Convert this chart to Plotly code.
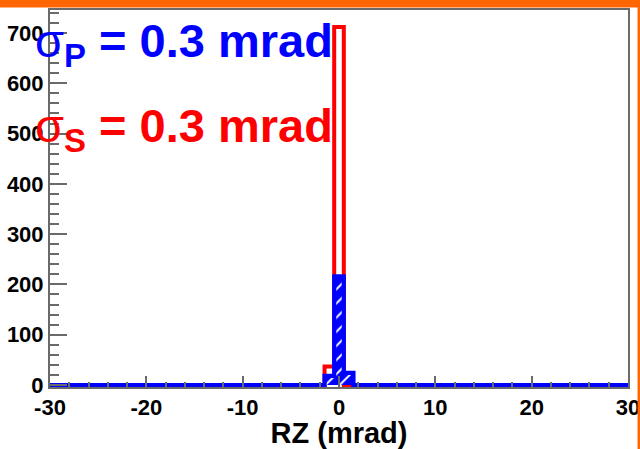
import plotly.graph_objects as go

# Histogram binning: 1 mrad bins centred on integer RZ values
bin_lo, bin_hi = -30, 30
bin_centers = list(range(bin_lo, bin_hi + 1))

# Non-empty bins of the two distributions (all other bins are zero)
peak_bins = [-1, 0, 1]
counts_sigma_s = [37, 712, 0]     # red, sigma_S = 0.3 mrad
counts_sigma_p = [18, 216, 24]    # blue, sigma_P = 0.3 mrad

x_ticks = [-30, -20, -10, 0, 10, 20, 30]
y_ticks = [0, 100, 200, 300, 400, 500, 600, 700]


def fill_bins(bins, counts):
    lookup = dict(zip(bins, counts))
    return [lookup.get(c, 0) for c in bin_centers]


red_y = fill_bins(peak_bins, counts_sigma_s)
blue_y = fill_bins(peak_bins, counts_sigma_p)

W, H = 640, 449
M_L, M_R, M_T, M_B = 50, 12, 10, 62
plot_h = H - M_T - M_B
plot_w = W - M_L - M_R


def py(pix):
    """pixel row -> paper y"""
    return (H - M_B - pix) / plot_h


def px(pix):
    """pixel column -> paper x"""
    return (pix - M_L) / plot_w


RED = "#ff0000"
BLUE = "#0000ff"
FRAME = "#6a6a6a"
FONT = "Liberation Sans"

fig = go.Figure()

# red histogram outline
fig.add_trace(go.Scatter(
    x=bin_centers, y=red_y, mode="lines",
    line=dict(color=RED, width=4, shape="hvh"),
    hoverinfo="skip", showlegend=False,
))

# blue histogram hatched fill (step-shaped area, drawn above the red outline)
fig.add_trace(go.Scatter(
    x=bin_centers, y=blue_y, mode="lines",
    line=dict(color=BLUE, width=0, shape="hvh"),
    fill="tozeroy", fillcolor=BLUE,
    fillpattern=dict(shape="/", bgcolor=BLUE, fgcolor="white",
                     size=10, solidity=0.2, fillmode="replace"),
    hoverinfo="skip", showlegend=False,
))

# blue histogram outline
fig.add_trace(go.Scatter(
    x=bin_centers, y=blue_y, mode="lines",
    line=dict(color=BLUE, width=4.2, shape="hvh"),
    hoverinfo="skip", showlegend=False,
))

tick_font = dict(family=FONT, size=22, color="black", weight="bold")

fig.update_xaxes(
    range=[bin_lo, bin_hi], automargin=False, ticklabeloverflow="allow",
    tickvals=x_ticks, ticktext=[str(v) for v in x_ticks],
    ticks="inside", ticklen=11, tickwidth=1.5, tickcolor=FRAME,
    minor=dict(dtick=2, ticks="inside", ticklen=5.5, tickwidth=1.5, tickcolor=FRAME),
    showline=True, linecolor=FRAME, linewidth=2, mirror=True,
    showgrid=False, zeroline=False,
    tickfont=tick_font,
    title=dict(text="RZ (mrad)", font=dict(family=FONT, size=29, color="black", weight="bold"),
               standoff=3),
)

fig.update_yaxes(
    range=[-4, 745.7], automargin=False, ticklabeloverflow="allow",
    tickvals=y_ticks, ticktext=[str(v) for v in y_ticks],
    ticks="inside", ticklen=17, tickwidth=1.5, tickcolor=FRAME,
    minor=dict(dtick=20, ticks="inside", ticklen=8.5, tickwidth=1.5, tickcolor=FRAME),
    showline=True, linecolor=FRAME, linewidth=2, mirror=True,
    showgrid=False, zeroline=False,
    tickfont=tick_font, ticklabelstandoff=0,
)

big = dict(family=FONT, size=47, weight="bold")
fig.add_annotation(
    text="<span style='font-weight:normal'>σ</span><sub>P</sub> = 0.3 mrad",
    xref="paper", yref="paper", x=px(33), y=py(12),
    xanchor="left", yanchor="top", showarrow=False,
    font=dict(color=BLUE, **big),
)
fig.add_annotation(
    text="<span style='font-weight:normal'>σ</span><sub>S</sub> = 0.3 mrad",
    xref="paper", yref="paper", x=px(33), y=py(97),
    xanchor="left", yanchor="top", showarrow=False,
    font=dict(color=RED, **big),
)

# orange slide border: band along the top and a thin rule on the right
ORANGE = "#ff6600"
fig.add_shape(type="rect", xref="paper", yref="paper",
              x0=px(-5), x1=px(W + 5), y0=py(7.5), y1=py(-5),
              fillcolor=ORANGE, line=dict(width=0), layer="above")
fig.add_shape(type="line", xref="paper", yref="paper",
              x0=px(638.8), x1=px(638.8), y0=py(0), y1=py(H + 5),
              line=dict(color=ORANGE, width=2.5), layer="above")

fig.update_layout(
    width=W, height=H,
    margin=dict(l=M_L, r=M_R, t=M_T, b=M_B, autoexpand=False),
    paper_bgcolor="white", plot_bgcolor="white",
    showlegend=False,
)

fig.write_html("out.html")
